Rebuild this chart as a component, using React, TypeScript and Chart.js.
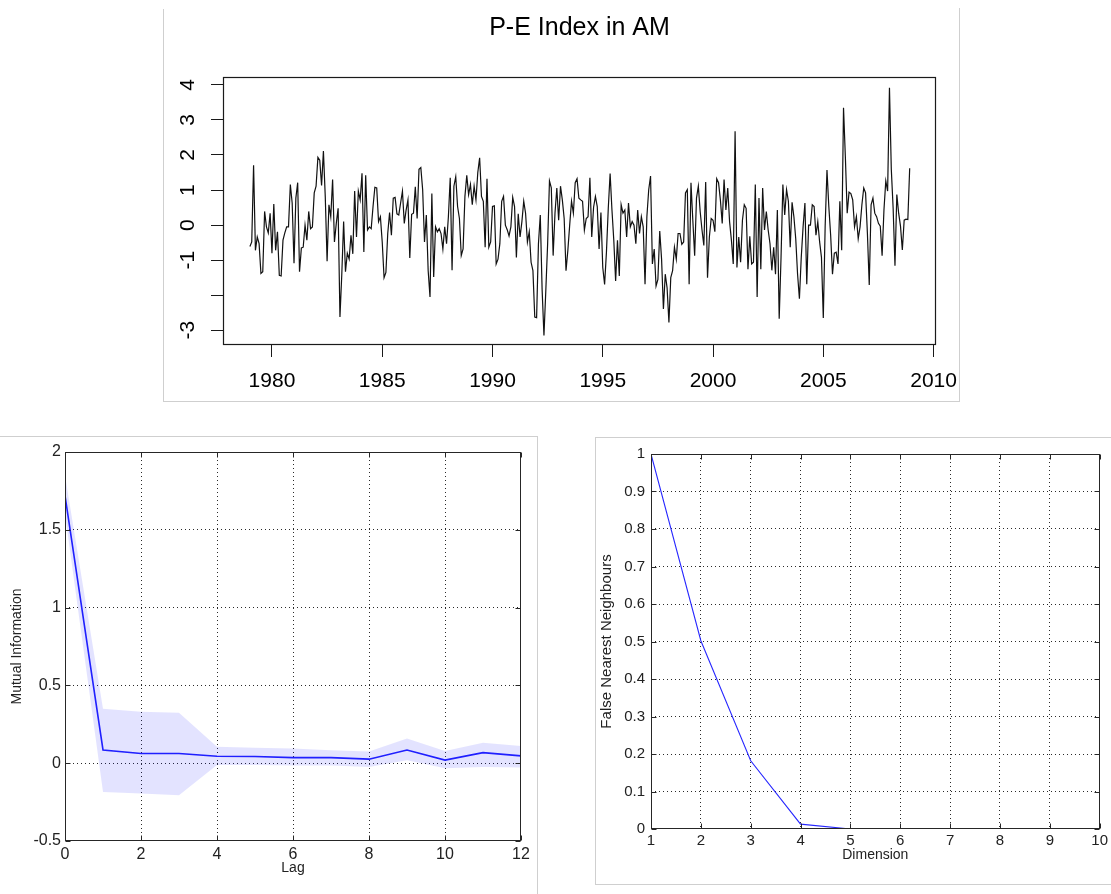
import React, { useEffect, useRef } from "react";
import { Chart, registerables } from "chart.js";

Chart.register(...registerables);

const FONT = "'Liberation Sans', Arial, Helvetica, sans-serif";

// ---------------- Top panel: P-E index (monthly, Jan 1979 - Dec 2008) ----------------
const TITLE = "P-E Index in AM";
const START_YEAR = 1979;
const PE_INDEX = [
  -0.61, -0.48, 1.71, -0.72, -0.34, -0.53, -1.38, -1.33, 0.39, -0.05,
  -0.22, 0.34, -0.8, 0.6, -0.72, -0.19, -1.43, -1.45, -0.43, -0.22,
  -0.05, -0.05, 1.16, 0.63, -1.09, 0.77, 1.21, -1.33, -0.65, -0.63,
  0.0, -0.43, 0.39, -0.1, -0.05, 0.92, 1.11, 1.93, 1.85, 1.13,
  2.11, 0.82, -1.03, 0.58, 0.24, 1.3, -0.48, 0.05, 0.48, -2.62,
  -1.4, 0.1, -1.33, -0.8, -0.97, -0.29, -0.82, 0.97, -0.34, 0.97,
  0.72, 1.48, -0.77, 1.42, -0.14, -0.05, -0.1, 0.53, 1.08, 1.06,
  0.1, 0.24, -0.48, -1.5, -1.35, -0.24, 0.36, -0.29, 0.77, 0.79,
  0.32, 0.29, 0.63, 0.97, 0.05, 0.43, 0.72, -0.94, 0.31, 0.34,
  1.09, 0.19, 1.59,
  1.64, 1.01, -0.48, 0.29, -1.3, -2.05, 0.9, -1.48, -0.05, -0.19,
  -0.1, -0.24, -0.68, -0.05, -0.53, 0.24, 1.35, -1.29, 1.11, 1.38,
  0.53, 0.19, -0.87, -0.68, 0.82, 1.42, 0.87, 1.16, 0.58, 1.11,
  0.72, 1.5, 1.92, 0.82, 0.68, -0.63, 1.32, -0.63, -0.48, 0.53,
  0.55, -1.11, -0.97, -0.53, 0.68, 0.82, 0.0, -0.13, -0.31, -0.05,
  0.79, 0.53, -0.92, 0.32, -0.34, 0.1, 0.68, 0.34, -0.48, -0.19,
  -1.06, -1.3, -2.62, -2.64, -0.53, 0.29, -1.84, -3.15, -1.88, -0.53,
  1.26, 1.06, -0.87, 0.34, 1.06, 0.14, 1.11, 0.72, 0.19, -1.3,
  -0.72, 0.0, 0.68, 0.34, 1.21, 1.32, 0.77, 0.72, 0.68, -0.14,
  0.19, 0.24, 1.35,
  -0.34, 0.51, 0.82, 0.53, -0.68, 0.36, -1.21, -1.69, -0.77, 0.48,
  1.47, 0.43, -0.43, -1.59, -0.43, -1.45, 0.58, 0.34, 0.43, -0.34,
  0.63, -0.05, 0.1, 0.0, -0.53, 0.43, -0.24, 0.24, -0.05, -1.69,
  0.24, 1.01, 1.4, -1.11, -0.68, -1.74, -1.55, -0.17, -0.97, -2.39,
  -1.4, -1.79, -2.78, -1.5, -1.3, -0.63, -0.97, -0.24, -0.24, -0.55,
  -0.48, 0.92, 1.01, -1.69, 1.21, 0.14, -0.87, 0.77, 1.11, 0.39,
  -0.14, -0.58, 1.23, -1.5, -0.34, 0.19, 0.14, -0.19, 1.32, 1.21,
  0.72, 0.05, 1.3, 0.43, 1.06, 0.1, -0.43, -1.11, 2.68, -1.21,
  -0.34, -1.06, 0.14, 0.58, 0.48, -1.26, -0.32, -1.11, -1.06, 1.16,
  -2.05, 0.77,
  -1.26, 1.06, -0.14, 0.39, -0.14, -0.53, -1.29, -0.63, -1.4, 0.43,
  -2.67, -0.92, 1.16, 0.29, 1.01, 0.68, -0.63, 0.65, 0.24, -0.39,
  -1.4, -2.1, -0.92, -0.05, 0.63, -1.69, 0.0, 0.0, 0.58, 0.53,
  -0.29, 0.1, -0.48, -0.92, -2.65, -0.05, 1.57, 0.53, -0.29, -1.4,
  -0.8, -0.77, -1.11, 0.68, -0.72, 3.35, 1.95, 0.34, 0.94, 0.9,
  0.72, -0.05, 0.24, -0.39, -0.05, 0.58, 1.06, 0.92, -0.24, -1.71,
  0.58, 0.77, 0.34, 0.24, 0.05, -0.03, -0.87, 0.43, 1.26, 0.97,
  3.92, 1.59, 0.48, -1.16, 0.87, 0.34, -0.03, -0.71, 0.14, 0.17,
  0.16, 1.62,
];
const YEAR_TICKS = [1980, 1985, 1990, 1995, 2000, 2005, 2010];
const PE_TICKS = [-3, -2, -1, 0, 1, 2, 3, 4];
const PE_TICK_LABELS = ["-3", "", "-1", "0", "1", "2", "3", "4"];

// ---------------- Bottom-left: mutual information ----------------
const LAGS = [0, 1, 2, 3, 4, 5, 6, 7, 8, 9, 10, 11, 12];
const MI = [1.72, 0.085, 0.062, 0.062, 0.045, 0.043, 0.036, 0.036, 0.026, 0.085, 0.02, 0.068, 0.047];
const MI_UPPER = [1.85, 0.35, 0.33, 0.325, 0.105, 0.1, 0.094, 0.083, 0.075, 0.158, 0.079, 0.132, 0.111];
const MI_LOWER = [1.6, -0.185, -0.195, -0.206, -0.011, -0.011, -0.015, -0.015, -0.024, 0.019, -0.032, -0.024, -0.028];
const LAG_TICKS = [0, 2, 4, 6, 8, 10, 12];
const MI_TICKS = [-0.5, 0, 0.5, 1, 1.5, 2];
const MI_TICK_LABELS = ["-0.5", "0", "0.5", "1", "1.5", "2"];

// ---------------- Bottom-right: false nearest neighbours ----------------
const DIMS = [1, 2, 3, 4, 5];
const FNN = [1.0, 0.502, 0.182, 0.013, 0.0];
const DIM_TICKS = [1, 2, 3, 4, 5, 6, 7, 8, 9, 10];
const FNN_TICKS = [0, 0.1, 0.2, 0.3, 0.4, 0.5, 0.6, 0.7, 0.8, 0.9, 1];
const FNN_TICK_LABELS = ["0", "0.1", "0.2", "0.3", "0.4", "0.5", "0.6", "0.7", "0.8", "0.9", "1"];

// ---------------- plugins ----------------
const rBoxPlugin = {
  id: "rBox",
  afterDatasetsDraw(chart: any) {
    const { ctx, chartArea: a } = chart;
    ctx.save();
    ctx.strokeStyle = "#1a1a1a";
    ctx.lineWidth = 1.2;
    ctx.strokeRect(Math.round(a.left) + 0.5, Math.round(a.top) + 0.5, Math.round(a.right - a.left) - 1, Math.round(a.bottom - a.top) - 1);
    ctx.restore();
  },
};

const matlabBoxPlugin = {
  id: "matlabBox",
  afterDatasetsDraw(chart: any) {
    const { ctx, chartArea: a, scales } = chart;
    const x = scales.x;
    const y = scales.y;
    const L = Math.round(a.left) + 0.5;
    const R = Math.round(a.right) - 0.5;
    const T = Math.round(a.top) + 0.5;
    const B = Math.round(a.bottom) - 0.5;
    ctx.save();
    ctx.strokeStyle = "#262626";
    ctx.lineWidth = 1;
    ctx.setLineDash([]);
    ctx.beginPath();
    x.ticks.forEach((t: any) => {
      const px = Math.round(x.getPixelForValue(t.value)) + 0.5;
      ctx.moveTo(px, B);
      ctx.lineTo(px, B - 5);
      ctx.moveTo(px, T);
      ctx.lineTo(px, T + 5);
    });
    y.ticks.forEach((t: any) => {
      const py = Math.round(y.getPixelForValue(t.value)) + 0.5;
      ctx.moveTo(L, py);
      ctx.lineTo(L + 5, py);
      ctx.moveTo(R, py);
      ctx.lineTo(R - 5, py);
    });
    ctx.stroke();
    ctx.strokeRect(L, T, R - L, B - T);
    ctx.restore();
  },
};

function dottedGrid(first: number, last: number) {
  return {
    drawOnChartArea: true,
    drawTicks: false,
    lineWidth: 1,
    color: (c: any) =>
      c.tick && (c.tick.value === first || c.tick.value === last) ? "rgba(0,0,0,0)" : "#2a2a2a",
  };
}

function topConfig(): any {
  return {
    type: "line",
    data: {
      datasets: [
        {
          data: PE_INDEX.map((v, i) => ({ x: START_YEAR + i / 12, y: v })),
          borderColor: "#111",
          borderWidth: 1.2,
          pointRadius: 0,
          tension: 0,
          fill: false,
        },
      ],
    },
    options: {
      responsive: false,
      animation: false,
      events: [],
      layout: { padding: 0 },
      plugins: {
        legend: { display: false },
        tooltip: { enabled: false },
        title: {
          display: true,
          text: TITLE,
          color: "#000",
          font: { family: FONT, size: 25, weight: "normal" },
          padding: { top: 13, bottom: 34 },
        },
      },
      scales: {
        x: {
          type: "linear",
          min: 1977.78,
          max: 2010.11,
          afterBuildTicks: (s: any) => {
            s.ticks = YEAR_TICKS.map((v) => ({ value: v }));
          },
          afterFit: (s: any) => {
            s.height = 58;
          },
          grid: { drawOnChartArea: false, drawTicks: true, tickLength: 12, color: "#1a1a1a", lineWidth: 1 },
          border: { display: false },
          ticks: {
            color: "#000",
            font: { family: FONT, size: 21 },
            padding: 12,
            maxRotation: 0,
            autoSkip: false,
            callback: (v: any) => String(v),
          },
        },
        y: {
          type: "linear",
          min: -3.42,
          max: 4.225,
          afterBuildTicks: (s: any) => {
            s.ticks = PE_TICKS.map((v) => ({ value: v }));
          },
          afterFit: (s: any) => {
            s.width = 60;
          },
          grid: { drawOnChartArea: false, drawTicks: true, tickLength: 12, color: "#1a1a1a", lineWidth: 1 },
          border: { display: false },
          ticks: {
            color: "#000",
            font: { family: FONT, size: 21 },
            padding: 13,
            minRotation: 90,
            maxRotation: 90,
            crossAlign: "center",
            autoSkip: false,
            callback: (v: any) => {
              const k = PE_TICKS.indexOf(v);
              return k >= 0 ? PE_TICK_LABELS[k] : "";
            },
          },
        },
        spacer: {
          type: "linear",
          axis: "y",
          position: "right",
          display: true,
          afterFit: (s: any) => {
            s.width = 60;
          },
          grid: { display: false },
          border: { display: false },
          ticks: { display: false },
        },
      },
    },
    plugins: [rBoxPlugin],
  };
}

function miConfig(): any {
  return {
    type: "line",
    data: {
      datasets: [
        {
          data: LAGS.map((x, i) => ({ x, y: MI_LOWER[i] })),
          borderColor: "rgba(0,0,0,0)",
          borderWidth: 0,
          pointRadius: 0,
          fill: false,
        },
        {
          data: LAGS.map((x, i) => ({ x, y: MI_UPPER[i] })),
          borderColor: "rgba(0,0,0,0)",
          borderWidth: 0,
          pointRadius: 0,
          backgroundColor: "rgba(0,0,255,0.11)",
          fill: "-1",
        },
        {
          data: LAGS.map((x, i) => ({ x, y: MI[i] })),
          borderColor: "rgb(35,35,255)",
          borderWidth: 1.6,
          pointRadius: 0,
          tension: 0,
          fill: false,
        },
      ],
    },
    options: {
      responsive: false,
      animation: false,
      events: [],
      layout: { padding: { top: 15, right: 16, left: 0, bottom: 0 } },
      plugins: { legend: { display: false }, tooltip: { enabled: false }, title: { display: false } },
      scales: {
        x: {
          type: "linear",
          min: 0,
          max: 12,
          afterBuildTicks: (s: any) => {
            s.ticks = LAG_TICKS.map((v) => ({ value: v }));
          },
          afterFit: (s: any) => {
            s.height = 53;
          },
          grid: dottedGrid(0, 12),
          border: { display: false, dash: [1, 3] },
          ticks: {
            color: "#222",
            font: { family: FONT, size: 16 },
            padding: 4,
            maxRotation: 0,
            autoSkip: false,
            callback: (v: any) => String(v),
          },
          title: {
            display: true,
            text: "Lag",
            color: "#222",
            font: { family: FONT, size: 14 },
            padding: { top: 0, bottom: 17 },
          },
        },
        y: {
          type: "linear",
          min: -0.5,
          max: 2,
          afterBuildTicks: (s: any) => {
            s.ticks = MI_TICKS.map((v) => ({ value: v }));
          },
          afterFit: (s: any) => {
            s.width = 65;
          },
          grid: dottedGrid(-0.5, 2),
          border: { display: false, dash: [1, 3] },
          ticks: {
            color: "#222",
            font: { family: FONT, size: 16 },
            padding: 4,
            autoSkip: false,
            callback: (v: any) => {
              const k = MI_TICKS.indexOf(v);
              return k >= 0 ? MI_TICK_LABELS[k] : "";
            },
          },
          title: {
            display: true,
            text: "Mutual Information",
            color: "#222",
            font: { family: FONT, size: 14 },
            padding: { top: 8.5, bottom: 0 },
          },
        },
      },
    },
    plugins: [matlabBoxPlugin],
  };
}

function fnnConfig(): any {
  return {
    type: "line",
    data: {
      datasets: [
        {
          data: DIMS.map((x, i) => ({ x, y: FNN[i] })),
          borderColor: "rgb(40,40,255)",
          borderWidth: 1.1,
          pointRadius: 0,
          tension: 0,
          fill: false,
        },
      ],
    },
    options: {
      responsive: false,
      animation: false,
      events: [],
      layout: { padding: { top: 17, right: 10, left: 0, bottom: 0 } },
      plugins: { legend: { display: false }, tooltip: { enabled: false }, title: { display: false } },
      scales: {
        x: {
          type: "linear",
          min: 1,
          max: 10,
          afterBuildTicks: (s: any) => {
            s.ticks = DIM_TICKS.map((v) => ({ value: v }));
          },
          afterFit: (s: any) => {
            s.height = 65;
          },
          grid: dottedGrid(1, 10),
          border: { display: false, dash: [1, 3] },
          ticks: {
            color: "#222",
            font: { family: FONT, size: 15 },
            padding: 3,
            maxRotation: 0,
            autoSkip: false,
            callback: (v: any) => String(v),
          },
          title: {
            display: true,
            text: "Dimension",
            color: "#222",
            font: { family: FONT, size: 14 },
            padding: { top: 0, bottom: 30 },
          },
        },
        y: {
          type: "linear",
          min: 0,
          max: 1,
          afterBuildTicks: (s: any) => {
            s.ticks = FNN_TICKS.map((v) => ({ value: v }));
          },
          afterFit: (s: any) => {
            s.width = 56;
          },
          grid: dottedGrid(0, 1),
          border: { display: false, dash: [1, 3] },
          ticks: {
            color: "#222",
            font: { family: FONT, size: 15 },
            padding: 6,
            autoSkip: false,
            callback: (v: any) => {
              const k = FNN_TICKS.indexOf(v);
              return k >= 0 ? FNN_TICK_LABELS[k] : "";
            },
          },
          title: {
            display: true,
            text: "False Nearest Neighbours",
            color: "#222",
            font: { family: FONT, size: 15 },
            padding: { top: 3, bottom: 0 },
          },
        },
      },
    },
    plugins: [matlabBoxPlugin],
  };
}

const FRAME = "#cfcfcf";

function Line(props: { left: number; top: number; width: number; height: number }) {
  return (
    <div
      style={{
        position: "absolute",
        left: props.left,
        top: props.top,
        width: props.width,
        height: props.height,
        background: FRAME,
      }}
    />
  );
}

export default function App() {
  const topRef = useRef<HTMLCanvasElement>(null);
  const miRef = useRef<HTMLCanvasElement>(null);
  const fnnRef = useRef<HTMLCanvasElement>(null);

  useEffect(() => {
    const charts: Chart[] = [];
    if (topRef.current) charts.push(new Chart(topRef.current, topConfig()));
    if (miRef.current) charts.push(new Chart(miRef.current, miConfig()));
    if (fnnRef.current) charts.push(new Chart(fnnRef.current, fnnConfig()));
    return () => {
      charts.forEach((c) => c.destroy());
    };
  }, []);

  return (
    <div
      style={{
        position: "fixed",
        left: 0,
        top: 0,
        width: 1111,
        height: 894,
        background: "#fff",
        overflow: "hidden",
      }}
    >
      {/* panel frames */}
      <Line left={163} top={9} width={1} height={393} />
      <Line left={959} top={8} width={1} height={394} />
      <Line left={163} top={401} width={797} height={1} />

      <Line left={0} top={436} width={538} height={1} />
      <Line left={537} top={436} width={1} height={458} />

      <Line left={595} top={437} width={516} height={1} />
      <Line left={595} top={437} width={1} height={448} />
      <Line left={595} top={884} width={516} height={1} />

      <canvas
        ref={topRef}
        width={833}
        height={403}
        style={{ position: "absolute", left: 163, top: 0, width: 833, height: 403 }}
      />
      <canvas
        ref={miRef}
        width={537}
        height={457}
        style={{ position: "absolute", left: 0, top: 437, width: 537, height: 457 }}
      />
      <canvas
        ref={fnnRef}
        width={516}
        height={457}
        style={{ position: "absolute", left: 595, top: 437, width: 516, height: 457 }}
      />
    </div>
  );
}
